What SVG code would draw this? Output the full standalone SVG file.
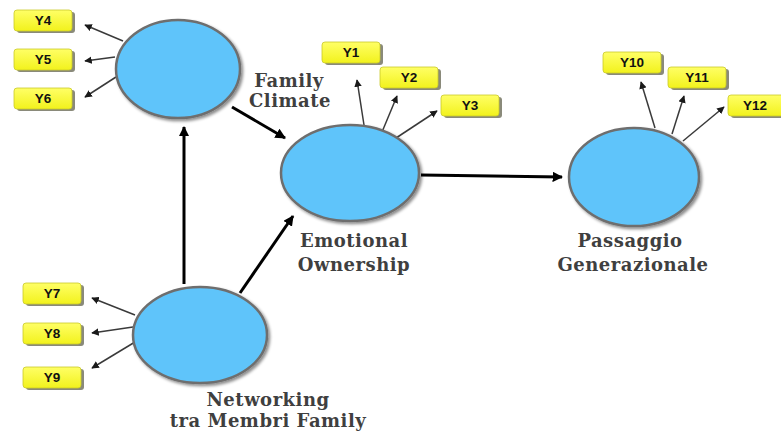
<svg xmlns="http://www.w3.org/2000/svg" width="781" height="432" viewBox="0 0 781 432">
  <defs>
    <style>
      .lv ellipse { fill: #5fc4fa; stroke: #6e6e6e; stroke-width: 2.5; filter: url(#shadow); }
      .ind rect.sh { fill: #8a8a7a; }
      .ind rect.bx { fill: url(#yel); stroke: #c9c92a; stroke-width: 0.8; }
      .ind text { font-family: "Liberation Sans", Arial, sans-serif; font-weight: bold; font-size: 13.5px; fill: #111; text-anchor: middle; }
      .lbl { font-family: "DejaVu Serif", "Liberation Serif", serif; font-weight: bold; font-size: 18px; fill: #3f3f3f; text-anchor: middle; letter-spacing: 0.5px; }
      .thin { stroke: #3a3a3a; stroke-width: 1.5; fill: none; marker-end: url(#ah); }
      .thick { stroke: #000; stroke-width: 3; fill: none; marker-end: url(#ahb); }
    </style>
    <linearGradient id="yel" x1="0" y1="0" x2="0" y2="1">
      <stop offset="0" stop-color="#ffff66"/>
      <stop offset="1" stop-color="#f2f21c"/>
    </linearGradient>
    <filter id="shadow" x="-20%" y="-20%" width="150%" height="150%">
      <feDropShadow dx="2" dy="2" stdDeviation="1.5" flood-color="#000" flood-opacity="0.45"/>
    </filter>
    <marker id="ah" viewBox="0 0 10 10" refX="9" refY="5" markerWidth="5" markerHeight="5" orient="auto" markerUnits="strokeWidth">
      <path d="M0,0 L10,5 L0,10 z" fill="#1a1a1a"/>
    </marker>
    <marker id="ahb" viewBox="0 0 10 10" refX="9" refY="5" markerWidth="3.5" markerHeight="3.5" orient="auto" markerUnits="strokeWidth">
      <path d="M0,0 L10,5 L0,10 z" fill="#000"/>
    </marker>
  </defs>

  <rect width="781" height="432" fill="#fff"/>

  <!-- connectors -->
  <g id="connectors">
    <!-- structural paths -->
    <line class="thick" x1="232" y1="107" x2="285" y2="138"/>
    <line class="thick" x1="184" y1="284" x2="184" y2="127"/>
    <line class="thick" x1="240" y1="293" x2="293" y2="216"/>
    <line class="thick" x1="421" y1="175" x2="562" y2="177"/>
    <!-- Family Climate indicators -->
    <line class="thin" x1="123" y1="41" x2="85" y2="25"/>
    <line class="thin" x1="115" y1="57" x2="85" y2="61"/>
    <line class="thin" x1="116" y1="77" x2="85" y2="97"/>
    <!-- Emotional Ownership indicators -->
    <line class="thin" x1="364" y1="125" x2="357" y2="80"/>
    <line class="thin" x1="382" y1="132" x2="397" y2="96"/>
    <line class="thin" x1="393" y1="140" x2="437" y2="111"/>
    <!-- Passaggio Generazionale indicators -->
    <line class="thin" x1="655" y1="128" x2="641" y2="82"/>
    <line class="thin" x1="672" y1="134" x2="684" y2="96"/>
    <line class="thin" x1="683" y1="141" x2="724" y2="107"/>
    <!-- Networking indicators -->
    <line class="thin" x1="135" y1="315" x2="92" y2="298"/>
    <line class="thin" x1="133" y1="327" x2="92" y2="333"/>
    <line class="thin" x1="135" y1="342" x2="92" y2="368"/>
  </g>

  <!-- latent variables -->
  <g id="family-climate" class="lv">
    <ellipse cx="178" cy="69" rx="62" ry="49"/>
    <text class="lbl" x="289" y="87">Family</text>
    <text class="lbl" x="290" y="107">Climate</text>
  </g>
  <g id="emotional-ownership" class="lv">
    <ellipse cx="350" cy="173" rx="69" ry="48"/>
    <text class="lbl" x="354" y="247">Emotional</text>
    <text class="lbl" x="354" y="271">Ownership</text>
  </g>
  <g id="passaggio-generazionale" class="lv">
    <ellipse cx="634" cy="177" rx="65" ry="49"/>
    <text class="lbl" x="630" y="247">Passaggio</text>
    <text class="lbl" x="633" y="271">Generazionale</text>
  </g>
  <g id="networking" class="lv">
    <ellipse cx="200" cy="335" rx="67" ry="48"/>
    <text class="lbl" x="268" y="406">Networking</text>
    <text class="lbl" x="268" y="427">tra Membri Family</text>
  </g>

  <!-- indicators -->
  <g id="y4" class="ind"><rect class="sh" x="17" y="12" width="58" height="21" rx="3"/><rect class="bx" x="14" y="10" width="58" height="21" rx="3"/><text x="43" y="25">Y4</text></g>
  <g id="y5" class="ind"><rect class="sh" x="17" y="51" width="58" height="21" rx="3"/><rect class="bx" x="14" y="49" width="58" height="21" rx="3"/><text x="43" y="64">Y5</text></g>
  <g id="y6" class="ind"><rect class="sh" x="17" y="90" width="58" height="21" rx="3"/><rect class="bx" x="14" y="88" width="58" height="21" rx="3"/><text x="43" y="103">Y6</text></g>

  <g id="y1" class="ind"><rect class="sh" x="325" y="44" width="58" height="21" rx="3"/><rect class="bx" x="322" y="42" width="58" height="21" rx="3"/><text x="351" y="57">Y1</text></g>
  <g id="y2" class="ind"><rect class="sh" x="383" y="69" width="58" height="21" rx="3"/><rect class="bx" x="380" y="67" width="58" height="21" rx="3"/><text x="409" y="82">Y2</text></g>
  <g id="y3" class="ind"><rect class="sh" x="444" y="97" width="58" height="21" rx="3"/><rect class="bx" x="441" y="95" width="58" height="21" rx="3"/><text x="470" y="110">Y3</text></g>

  <g id="y10" class="ind"><rect class="sh" x="606" y="54" width="58" height="21" rx="3"/><rect class="bx" x="603" y="52" width="58" height="21" rx="3"/><text x="632" y="67">Y10</text></g>
  <g id="y11" class="ind"><rect class="sh" x="671" y="69" width="58" height="21" rx="3"/><rect class="bx" x="668" y="67" width="58" height="21" rx="3"/><text x="697" y="82">Y11</text></g>
  <g id="y12" class="ind"><rect class="sh" x="731" y="97" width="58" height="21" rx="3"/><rect class="bx" x="728" y="95" width="58" height="21" rx="3"/><text x="755" y="110">Y12</text></g>

  <g id="y7" class="ind"><rect class="sh" x="26" y="285" width="58" height="21" rx="3"/><rect class="bx" x="23" y="283" width="58" height="21" rx="3"/><text x="52" y="298">Y7</text></g>
  <g id="y8" class="ind"><rect class="sh" x="26" y="325" width="58" height="21" rx="3"/><rect class="bx" x="23" y="323" width="58" height="21" rx="3"/><text x="52" y="338">Y8</text></g>
  <g id="y9" class="ind"><rect class="sh" x="26" y="369" width="58" height="21" rx="3"/><rect class="bx" x="23" y="367" width="58" height="21" rx="3"/><text x="52" y="382">Y9</text></g>
</svg>
